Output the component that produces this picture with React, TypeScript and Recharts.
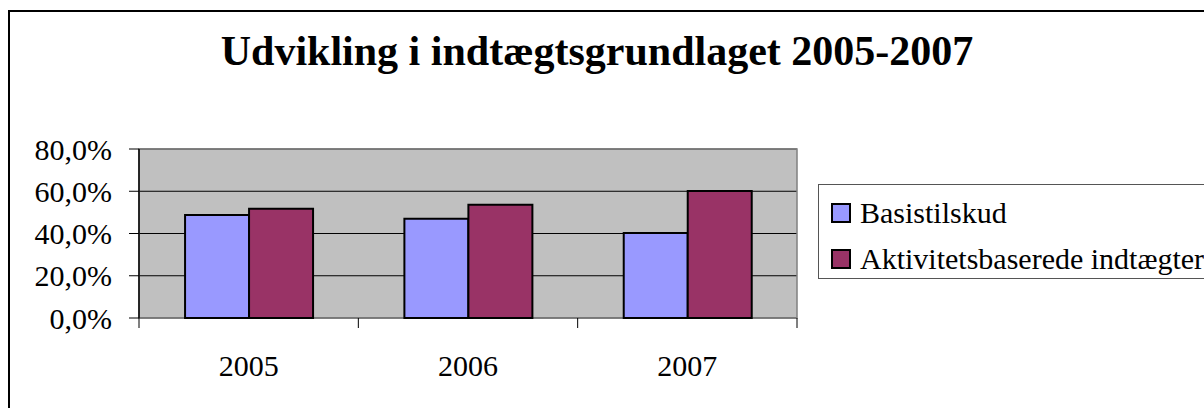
import React from "react";
import {
  BarChart,
  Bar,
  XAxis,
  YAxis,
  CartesianGrid,
  ReferenceArea,
  Legend,
} from "recharts";

const years = ["2005", "2006", "2007"];
const basistilskud = [48.8, 47.0, 40.2];
const aktivitetsbaserede = [51.7, 53.6, 60.1];
const yTicks = [0, 20, 40, 60, 80];

const seriesNames = ["Basistilskud", "Aktivitetsbaserede indtægter"];
const seriesColors = ["#9999FF", "#993366"];

const data = years.map((y, i) => ({
  year: y,
  basis: basistilskud[i],
  aktiv: aktivitetsbaserede[i],
}));

const FONT = '"Liberation Serif", "Times New Roman", serif';
const tickStyle = { fill: "#000", fontSize: 30, fontFamily: FONT, style: { fontFamily: FONT } };

const fmtPct = (v: number) => v.toFixed(1).replace(".", ",") + "%";

const X_TICK = 10;
const X_MARGIN = 27;

// category label plus Excel-style tick marks at the category boundaries
function YearTick(props: any) {
  const { x, y, payload, index, visibleTicksCount } = props;
  const half = payload?.offset ?? 0;
  const axisY = y - X_TICK - X_MARGIN;
  const last = index === (visibleTicksCount ?? years.length) - 1;
  return (
    <g>
      <line x1={x - half} x2={x - half} y1={axisY} y2={axisY + X_TICK} stroke="#000" />
      {last && (
        <line x1={x + half} x2={x + half} y1={axisY} y2={axisY + X_TICK} stroke="#000" />
      )}
      <text
        x={x}
        y={y}
        dy="0.71em"
        textAnchor="middle"
        fill="#000"
        fontSize={30}
        style={{ fontFamily: FONT }}
      >
        {payload.value}
      </text>
    </g>
  );
}

function LegendBox() {
  return (
    <div
      style={{
        width: 420,
        height: 95,
        border: "1px solid #555",
        background: "#fff",
        fontFamily: FONT,
        fontSize: 30,
        color: "#000",
        boxSizing: "border-box",
        position: "relative",
      }}
    >
      {seriesNames.map((name, i) => (
        <div
          key={name}
          style={{
            position: "absolute",
            left: 12,
            top: i === 0 ? 10 : 56,
            height: 36,
            display: "flex",
            alignItems: "center",
            whiteSpace: "nowrap",
          }}
        >
          <span
            style={{
              display: "inline-block",
              width: 16,
              height: 16,
              border: "2px solid #000",
              background: seriesColors[i],
              marginRight: 9,
            }}
          />
          <span style={{ lineHeight: "36px" }}>{name}</span>
        </div>
      ))}
    </div>
  );
}

export default function App() {
  return (
    <div
      style={{
        position: "absolute",
        left: 0,
        top: 0,
        width: 1204,
        height: 408,
        overflow: "hidden",
        background: "#fff",
      }}
    >
      <div
        style={{
          position: "absolute",
          left: 8,
          top: 10,
          width: 1400,
          height: 600,
          borderLeft: "2px solid #000",
          borderTop: "2px solid #000",
        }}
      />
      <div
        style={{
          position: "absolute",
          left: 0,
          width: 1194,
          top: 26,
          textAlign: "center",
          fontFamily: FONT,
          fontWeight: "bold",
          fontSize: 42,
          lineHeight: "50px",
          color: "#000",
        }}
      >
        Udvikling i indtægtsgrundlaget 2005-2007
      </div>
      <div style={{ position: "absolute", left: 0, top: 0 }}>
        <BarChart
          width={1204}
          height={408}
          data={data}
          margin={{ top: 149, right: 407, bottom: 30, left: 0 }}
          barCategoryGap="21%"
          barGap={0}
        >
          <CartesianGrid
            vertical={false}
            fill="#c0c0c0"
            stroke="#000"
            strokeWidth={1}
            fillOpacity={1}
          />
          <ReferenceArea
            y1={0}
            y2={80}
            fill="none"
            stroke="#808080"
            strokeWidth={1.5}
            ifOverflow="visible"
          />
          <XAxis
            dataKey="year"
            height={60}
            tickSize={X_TICK}
            tickMargin={X_MARGIN}
            tickLine={false}
            axisLine={false}
            interval={0}
            tick={<YearTick />}
          />
          <YAxis
            width={139}
            domain={[0, 80]}
            ticks={yTicks}
            tickFormatter={fmtPct}
            tickSize={10}
            tickMargin={17}
            axisLine={{ stroke: "#000", strokeWidth: 1.5 }}
            tickLine={{ stroke: "#000", strokeWidth: 1 }}
            tick={tickStyle}
          />
          <Legend
            layout="vertical"
            align="center"
            verticalAlign="middle"
            wrapperStyle={{ left: 818, top: 184, width: 420 }}
            content={() => <LegendBox />}
          />
          <Bar
            dataKey="basis"
            name={seriesNames[0]}
            fill={seriesColors[0]}
            stroke="#000"
            strokeWidth={2}
            isAnimationActive={false}
          />
          <Bar
            dataKey="aktiv"
            name={seriesNames[1]}
            fill={seriesColors[1]}
            stroke="#000"
            strokeWidth={2}
            isAnimationActive={false}
          />
          <ReferenceArea
            y1={0}
            y2={0}
            stroke="#000"
            strokeWidth={1.5}
            ifOverflow="visible"
          />
        </BarChart>
      </div>
    </div>
  );
}
